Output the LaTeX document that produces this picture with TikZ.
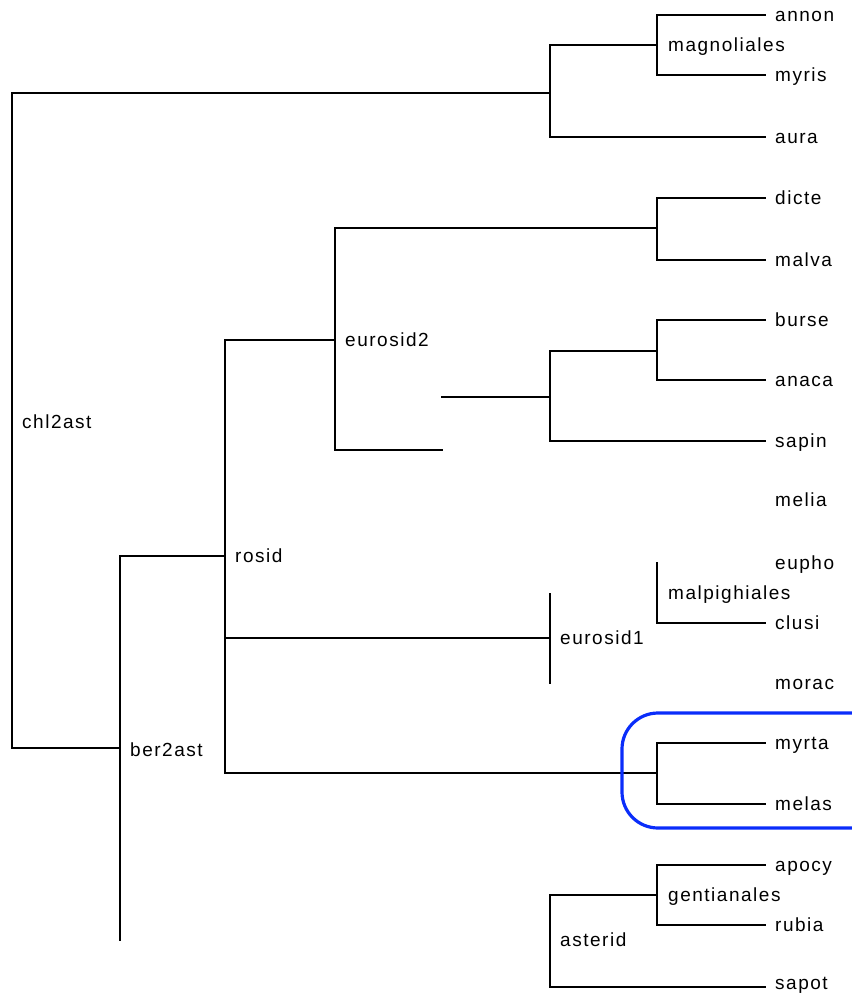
\documentclass[tikz,border=0pt]{standalone}
\usepackage{fontspec}
\newfontfamily\labfont[LetterSpace=8]{Liberation Sans}
\definecolor{hiblue}{RGB}{10,45,250}
\begin{document}
\begin{tikzpicture}[x=1pt,y=-1pt,
  branch/.style={line width=1.8pt,black,line cap=rect},
  leaf/.style={anchor=base west,inner sep=0pt,font=\labfont\fontsize{19}{19}\selectfont},
  clade/.style={anchor=base west,inner sep=0pt,font=\labfont\fontsize{19}{19}\selectfont},
  hilite/.style={line width=3.2pt,hiblue,rounded corners=36pt}]
\useasboundingbox (0,0) rectangle (852,994);
% leaf labels
\foreach \n/\y/\b in {annon/15/6,myris/75/6,aura/137/6,dicte/198/6,malva/260/6,burse/320/6,anaca/380/6,sapin/441/6,melia/500/6,eupho/563/6,clusi/623/6,morac/683/6,myrta/743/6,melas/804/6,apocy/865/6,rubia/925/6,sapot/987/2}{
  \node[leaf] (\n) at (775,\y+\b) {\n};
  \coordinate (\n-e) at (765,\y);
}
% clade labels
\node[clade] (chl) at (22,428) {chl2ast};
\node[clade] (ber) at (130,756) {ber2ast};
\node[clade] (rosid) at (235,562) {rosid};
\node[clade] (eur2) at (345,346) {eurosid2};
\node[clade] (eur1) at (560,644) {eurosid1};
\node[clade] (magn) at (668,51) {magnoliales};
\node[clade] (malp) at (668,599) {malpighiales};
\node[clade] (gent) at (668,901) {gentianales};
\node[clade] (aster) at (560,946) {asterid};
% internal coordinates
\coordinate (root) at (12,93);
\coordinate (rootb) at (12,748);
\coordinate (n1) at (550,93);
\coordinate (n1t) at (550,45);
\coordinate (n1b) at (550,137);
\coordinate (mg) at (657,45);
\coordinate (mgt) at (657,15);
\coordinate (mgb) at (657,75);
\coordinate (bt) at (120,556);
\coordinate (bm) at (120,748);
\coordinate (bb) at (120,940);
\coordinate (rt) at (225,340);
\coordinate (rm) at (225,556);
\coordinate (r1) at (225,638);
\coordinate (rb) at (225,773);
\coordinate (e2t) at (335,228);
\coordinate (e2m) at (335,340);
\coordinate (e2b) at (335,450);
\coordinate (e2be) at (442,450);
\coordinate (dm) at (657,228);
\coordinate (dt) at (657,198);
\coordinate (db) at (657,260);
\coordinate (sl) at (442,397);
\coordinate (sm) at (550,397);
\coordinate (st) at (550,351);
\coordinate (sb) at (550,441);
\coordinate (bam) at (657,351);
\coordinate (bat) at (657,320);
\coordinate (bab) at (657,380);
\coordinate (e1m) at (550,638);
\coordinate (e1t) at (550,594);
\coordinate (e1b) at (550,683);
\coordinate (mpt) at (657,563);
\coordinate (mpb) at (657,623);
\coordinate (mym) at (657,773);
\coordinate (myt) at (657,743);
\coordinate (myb) at (657,804);
\coordinate (at) at (550,895);
\coordinate (ab) at (550,987);
\coordinate (gm) at (657,895);
\coordinate (gt) at (657,865);
\coordinate (gb) at (657,925);
% branches
\draw[branch] (n1) -- (root) -- (rootb) -- (bm);
\draw[branch] (mg) -- (n1t) -- (n1b) -- (aura-e);
\draw[branch] (annon-e) -- (mgt) -- (mgb) -- (myris-e);
\draw[branch] (rm) -- (bt) -- (bb);
\draw[branch] (e2m) -- (rt) -- (rb) -- (mym);
\draw[branch] (r1) -- (e1m);
\draw[branch] (dm) -- (e2t) -- (e2b) -- (e2be);
\draw[branch] (dicte-e) -- (dt) -- (db) -- (malva-e);
\draw[branch] (sl) -- (sm);
\draw[branch] (bam) -- (st) -- (sb) -- (sapin-e);
\draw[branch] (burse-e) -- (bat) -- (bab) -- (anaca-e);
\draw[branch] (e1t) -- (e1b);
\draw[branch] (mpt) -- (mpb) -- (clusi-e);
\draw[branch] (myrta-e) -- (myt) -- (myb) -- (melas-e);
\draw[branch] (gm) -- (at) -- (ab) -- (sapot-e);
\draw[branch] (apocy-e) -- (gt) -- (gb) -- (rubia-e);
% highlight
\coordinate (hl1) at (870,713);
\coordinate (hl2) at (622,713);
\coordinate (hl3) at (622,828);
\coordinate (hl4) at (870,828);
\draw[hilite] (hl1) -- (hl2) -- (hl3) -- (hl4);
\end{tikzpicture}
\end{document}
